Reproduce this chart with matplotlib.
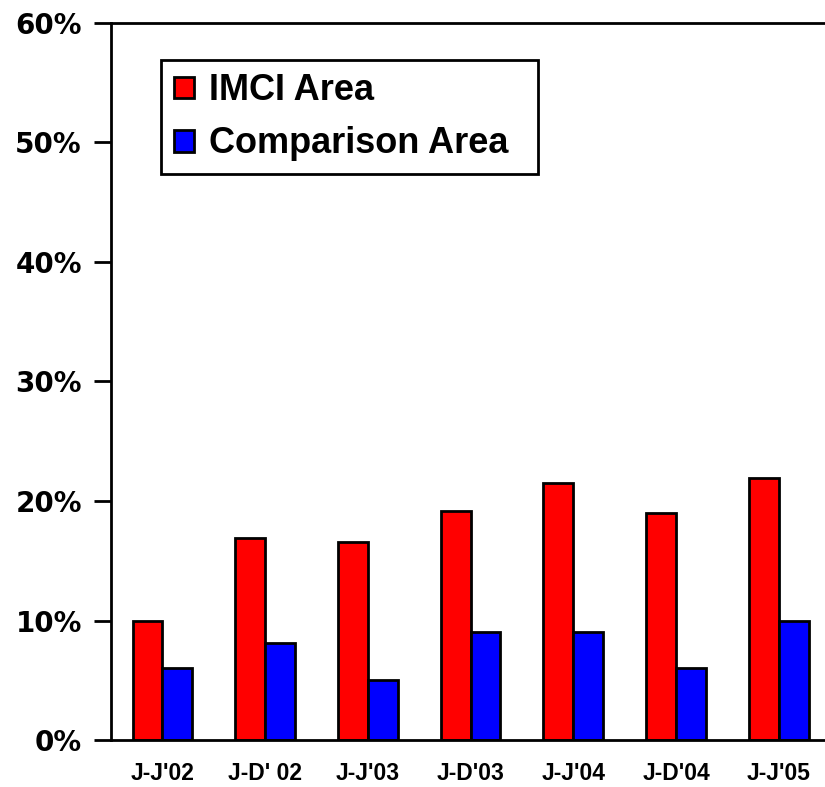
import matplotlib.pyplot as plt
import numpy as np
from matplotlib.ticker import PercentFormatter

periods = ["J-J'02", "J-D' 02", "J-J'03", "J-D'03", "J-J'04", "J-D'04", "J-J'05"]
imci_area = [10.0, 16.9, 16.6, 19.2, 21.5, 19.0, 21.9]
comparison_area = [6.0, 8.1, 5.0, 9.0, 9.0, 6.0, 10.0]

plt.rcParams['font.family'] = ['Liberation Sans', 'DejaVu Sans']
plt.rcParams['font.weight'] = 'bold'

fig = plt.figure(figsize=(8.25, 7.87), dpi=100)
ax = fig.add_axes([0.1345, 0.0597, 0.8655, 0.9111])

x = np.arange(len(periods))
w = 0.29
ax.bar(x - w / 2, imci_area, w, color='#ff0000', edgecolor='black', linewidth=2, label='IMCI Area')
ax.bar(x + w / 2, comparison_area, w, color='#0000ff', edgecolor='black', linewidth=2, label='Comparison Area')

ax.set_ylim(0, 60)
ax.set_xlim(-0.5, 6.45)
ax.set_yticks(np.arange(0, 61, 10))
ax.yaxis.set_major_formatter(PercentFormatter(decimals=0))
ax.set_xticks(x)
ax.set_xticklabels(periods, fontsize=16.5, fontweight='bold')
ax.tick_params(axis='x', length=0, pad=16)
ax.tick_params(axis='y', direction='out', length=12, width=2, pad=9)
for lbl in ax.get_yticklabels():
    lbl.set_fontfamily('DejaVu Sans')
    lbl.set_fontsize(20)
    lbl.set_fontweight('bold')

for s in ['left', 'bottom', 'top']:
    ax.spines[s].set_linewidth(2)
ax.spines['right'].set_visible(False)

# legend box stretched to fixed width
leg = ax.legend(loc='upper left', bbox_to_anchor=(0.070, 0.948 - 0.2, 0.528, 0.2),
                mode='expand',
                prop={'weight': 'bold', 'size': 26}, frameon=True, fancybox=False,
                handlelength=0.56, handleheight=0.56, handletextpad=0.42,
                borderpad=0.36, labelspacing=0.5, borderaxespad=0, framealpha=1)
leg.get_frame().set_edgecolor('black')
leg.get_frame().set_linewidth(2)

fig.savefig('out.png', dpi=100)
